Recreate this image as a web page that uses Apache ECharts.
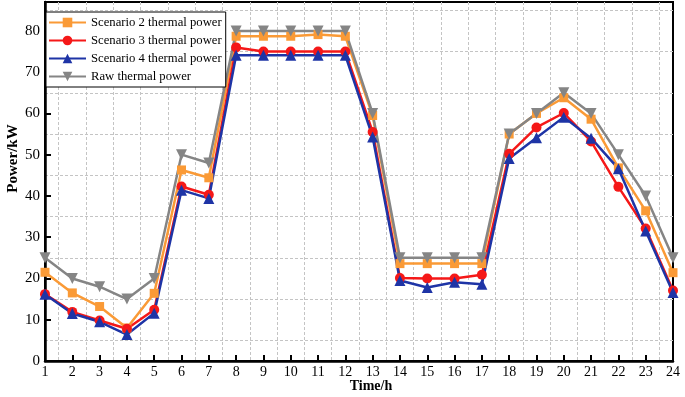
<!DOCTYPE html>
<html>
<head>
<meta charset="utf-8">
<script src="https://cdn.jsdelivr.net/npm/echarts@6/dist/echarts.min.js"></script>
<style>
  html, body { margin: 0; padding: 0; background: #fff; }
  #chart { width: 685px; height: 397px; }
</style>
</head>
<body>
<div id="chart"></div>
<script>
const HOURS = [1, 2, 3, 4, 5, 6, 7, 8, 9, 10, 11, 12, 13, 14, 15, 16, 17, 18, 19, 20, 21, 22, 23, 24];
const SCENARIO2 = [21.5, 16.5, 13.2, 8, 16.4, 46.3, 44.4, 78.7, 78.7, 78.7, 79.1, 78.7, 59.5, 23.6, 23.6, 23.6, 23.6, 55, 60, 63.8, 58.6, 46.8, 36.4, 21.4];
const SCENARIO3 = [16.2, 11.9, 9.8, 7.8, 12.4, 42.3, 40.3, 76, 75, 75, 75, 75, 55.5, 20.1, 20, 20, 20.9, 50.2, 56.6, 60.1, 53.2, 42.2, 32.1, 17.1];
const SCENARIO4 = [16.2, 11.5, 9.5, 6.4, 11.6, 41.4, 39.4, 74.1, 74.1, 74.1, 74.1, 74.1, 54.3, 19.5, 17.8, 19.1, 18.6, 49.1, 54.1, 59.1, 54, 46.6, 31.5, 16.6];
const RAW = [25, 20, 18, 15, 20, 50, 48, 80, 80, 80, 80, 80, 60, 25, 25, 25, 25, 55, 60, 65, 60, 50, 40, 25];
const Y_GRID = [5, 15, 25, 35, 45, 55, 65, 75, 85];

const FONT = '"Liberation Serif", "Times New Roman", serif';
const pairs = (ys) => HOURS.map((h, i) => [h, ys[i]]);

const chart = echarts.init(document.getElementById('chart'), null, { renderer: 'canvas' });

const gridLines = {
  silent: true,
  symbol: 'none',
  z: 0,
  label: { show: false },
  lineStyle: { color: '#c4c4c4', type: [3, 2], width: 1 },
  emphasis: { disabled: true },
  data: Y_GRID.map(v => ({ yAxis: v }))
};

function line(name, data, color, symbol, size, extra) {
  return Object.assign({
    name,
    type: 'line',
    data: pairs(data),
    symbol,
    symbolSize: size,
    lineStyle: { color, width: 2.5 },
    itemStyle: { color },
    animation: false
  }, extra || {});
}

chart.setOption({
  backgroundColor: '#fff',
  animation: false,
  grid: {
    left: 45, right: 12, top: 2, bottom: 36,
    outerBoundsMode: 'none',
    containLabel: false,
    show: true, borderColor: '#000', borderWidth: 2, backgroundColor: 'transparent'
  },
  legend: {
    orient: 'vertical',
    left: 46, top: 12,
    backgroundColor: '#fff',
    borderColor: '#000',
    borderWidth: 1,
    borderRadius: 0,
    padding: [4, 4, 4, 2],
    itemGap: 5,
    itemWidth: 37,
    itemHeight: 12,
    textStyle: { fontFamily: FONT, fontSize: 12.7, color: '#000' }
  },
  xAxis: {
    type: 'value',
    min: 1, max: 24, interval: 1,
    name: 'Time/h',
    nameLocation: 'middle',
    nameGap: 18.5,
    nameMoveOverlap: false,
    nameTextStyle: { fontFamily: FONT, fontSize: 14, fontWeight: 'bold', color: '#000', padding: [0, 0, 0, 24] },
    axisLine: { lineStyle: { color: '#000', width: 2.5 } },
    axisTick: { inside: true, length: 6, lineStyle: { color: '#000', width: 2 } },
    axisLabel: { fontFamily: FONT, fontSize: 14, color: '#000', margin: 4 },
    splitLine: { show: false },
    minorTick: { show: false, splitNumber: 2 },
    minorSplitLine: { show: true, lineStyle: { color: '#c4c4c4', type: [3, 2], width: 1 } }
  },
  yAxis: {
    type: 'value',
    min: 0, max: 87, interval: 10,
    name: 'Power/kW',
    nameLocation: 'middle',
    nameGap: 24,
    nameMoveOverlap: false,
    nameTextStyle: { fontFamily: FONT, fontSize: 15, fontWeight: 'bold', color: '#000', padding: [0, 0, 0, 46] },
    axisLine: { lineStyle: { color: '#000', width: 2.5 } },
    axisTick: { inside: true, length: 6, lineStyle: { color: '#000', width: 2 } },
    axisLabel: { fontFamily: FONT, fontSize: 15, color: '#000', margin: 5, showMaxLabel: false },
    splitLine: { show: false }
  },
  series: [
    line('Scenario 2 thermal power', SCENARIO2, '#FA9A36', 'rect', 9, { markLine: gridLines }),
    line('Scenario 3 thermal power', SCENARIO3, '#F51818', 'circle', 10),
    line('Scenario 4 thermal power', SCENARIO4, '#1E34A6', 'triangle', 11),
    line('Raw thermal power', RAW, '#858585', 'triangle', 11, { symbolRotate: 180 })
  ]
});
</script>
</body>
</html>
